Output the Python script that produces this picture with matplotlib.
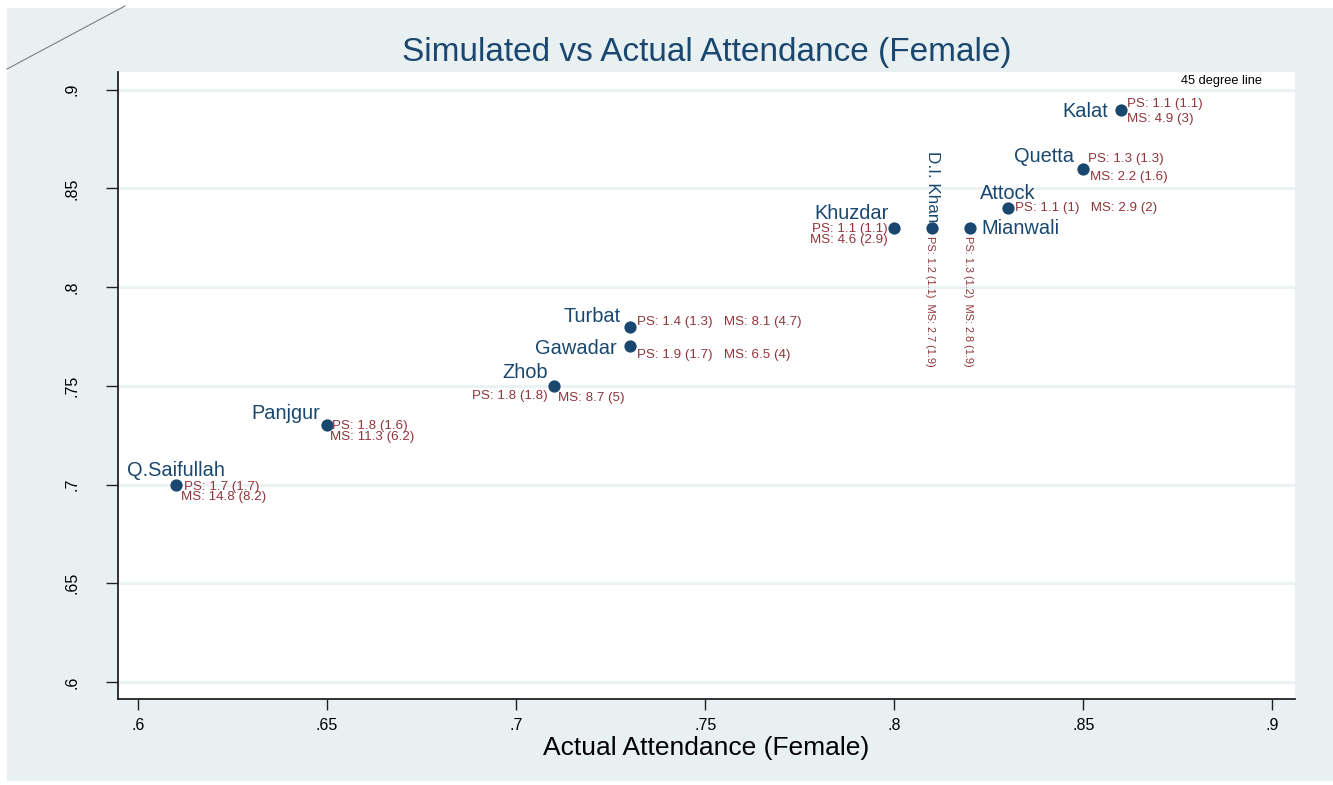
import matplotlib.pyplot as plt
from matplotlib.lines import Line2D
from matplotlib.patches import Rectangle
from matplotlib.ticker import FuncFormatter

plt.rcParams['font.family'] = ['Liberation Sans', 'DejaVu Sans']

# districts, actual vs simulated female attendance
districts = ['Q.Saifullah', 'Panjgur', 'Zhob', 'Gawadar', 'Turbat', 'Khuzdar',
             'D.I. Khan', 'Mianwali', 'Attock', 'Quetta', 'Kalat']
actual = [0.61, 0.65, 0.71, 0.73, 0.73, 0.80, 0.81, 0.82, 0.83, 0.85, 0.86]
simulated = [0.70, 0.73, 0.75, 0.77, 0.78, 0.83, 0.83, 0.83, 0.84, 0.86, 0.89]

# PS / MS figures shown beside each point: value (value in brackets)
ps_val = [1.7, 1.8, 1.8, 1.9, 1.4, 1.1, 1.2, 1.3, 1.1, 1.3, 1.1]
ps_par = [1.7, 1.6, 1.8, 1.7, 1.3, 1.1, 1.1, 1.2, 1, 1.3, 1.1]
ms_val = [14.8, 11.3, 8.7, 6.5, 8.1, 4.6, 2.7, 2.8, 2.9, 2.2, 4.9]
ms_par = [8.2, 6.2, 5, 4, 4.7, 2.9, 1.9, 1.9, 2, 1.6, 3]

navy = '#1a476f'
red = '#90353b'
bg = '#e8f0f2'

# where the district name sits (pixels from the marker): dx, dy, ha, va, rotation
name_pos = {
    'Q.Saifullah': (0, 14, 'center', 'center', 0),
    'Panjgur': (-7, 12, 'right', 'center', 0),
    'Zhob': (-6, 13, 'right', 'center', 0),
    'Gawadar': (-13, -2, 'right', 'center', 0),
    'Turbat': (-9, 10, 'right', 'center', 0),
    'Khuzdar': (-5, 14, 'right', 'center', 0),
    'D.I. Khan': (0, 6, 'center', 'bottom', -90),
    'Mianwali': (12, -1, 'left', 'center', 0),
    'Attock': (0, 15, 'center', 'center', 0),
    'Quetta': (-9, 12, 'right', 'center', 0),
    'Kalat': (-13, -2, 'right', 'center', 0),
}

# PS/MS text placement: (which, dx, dy, ha, va, rotation)
info_pos = {
    'Q.Saifullah': [('ps', 8, -2, 'left', 'center', 0), ('ms', 5, -12, 'left', 'center', 0)],
    'Panjgur': [('ps', 5, -1, 'left', 'center', 0), ('ms', 3, -12, 'left', 'center', 0)],
    'Zhob': [('ps', -6, -10, 'right', 'center', 0), ('ms', 4, -12, 'left', 'center', 0)],
    'Gawadar': [('row', 7, -9, 'left', 'center', 0)],
    'Turbat': [('row', 7, 5, 'left', 'center', 0)],
    'Khuzdar': [('ps', -6, -1, 'right', 'center', 0), ('ms', -6, -12, 'right', 'center', 0)],
    'D.I. Khan': [('col', -2, -8, 'center', 'top', -90)],
    'Mianwali': [('col', -2, -8, 'center', 'top', -90)],
    'Attock': [('row', 7, 0, 'left', 'center', 0)],
    'Quetta': [('ps', 5, 10, 'left', 'center', 0), ('ms', 7, -8, 'left', 'center', 0)],
    'Kalat': [('ps', 6, 6, 'left', 'center', 0), ('ms', 6, -9, 'left', 'center', 0)],
}

W, H = 1333, 785
fig = plt.figure(figsize=(W / 100, H / 100), dpi=100, facecolor='white')
fig.patches.append(Rectangle((7 / W, 4 / H), 1 - 7 / W, 1 - 12 / H, transform=fig.transFigure,
                             facecolor=bg, edgecolor='none', zorder=0))
# stray 45 degree line in the top-left corner
fig.lines.append(Line2D([7 / W, 125 / W], [1 - 69 / H, 1 - 6 / H], transform=fig.transFigure,
                        color='#7f7f7f', lw=0.8))

ax = fig.add_axes([118 / W, 1 - 699 / H, (1295 - 118) / W, (699 - 72) / H], zorder=2)
ax.set_facecolor('white')
ax.set_xlim(0.5947, 0.906)
ax.set_ylim(0.5914, 0.909)

ticks = [0.6, 0.65, 0.7, 0.75, 0.8, 0.85, 0.9]
fmt = FuncFormatter(lambda v, p: ('%g' % v).lstrip('0'))
ax.set_xticks(ticks)
ax.set_yticks(ticks)
ax.xaxis.set_major_formatter(fmt)
ax.yaxis.set_major_formatter(fmt)
ax.tick_params(axis='x', length=8, width=1, pad=6, labelsize=11.5, color='#222222')
ax.tick_params(axis='y', length=9, width=1, pad=19, labelsize=11.5, color='#222222')
for lab in ax.get_yticklabels():
    lab.set_rotation(90)
    lab.set_va('center')

for s in ['top', 'right']:
    ax.spines[s].set_visible(False)
for s in ['left', 'bottom']:
    ax.spines[s].set_linewidth(1.3)
    ax.spines[s].set_color('#222222')

ax.grid(axis='y', color='#eaf2f3', lw=2)
ax.set_axisbelow(True)

ax.scatter(actual, simulated, s=78, color=navy, zorder=3, linewidths=0)

for i, d in enumerate(districts):
    x, y = actual[i], simulated[i]
    dx, dy, ha, va, rot = name_pos[d]
    # vertical labels come out a little smaller
    ax.annotate(d, (x, y), xytext=(dx, dy), textcoords='offset pixels',
                ha=ha, va=va, rotation=rot, fontsize=12.3 if rot else 14.4, color=navy)
    ps = 'PS: %g (%g)' % (ps_val[i], ps_par[i])
    ms = 'MS: %g (%g)' % (ms_val[i], ms_par[i])
    for kind, dx, dy, ha, va, rot in info_pos[d]:
        txt = {'ps': ps, 'ms': ms, 'row': ps + '   ' + ms, 'col': ps + '  ' + ms}[kind]
        ax.annotate(txt, (x, y), xytext=(dx, dy), textcoords='offset pixels',
                    ha=ha, va=va, rotation=rot, fontsize=7.9 if rot else 9.6, color=red)

ax.text(0.972, 0.9856, '45 degree line', transform=ax.transAxes, ha='right', va='center',
        fontsize=9.2, color='black')

ax.set_title('Simulated vs Actual Attendance (Female)', fontsize=24, color=navy, pad=8)
ax.set_xlabel('Actual Attendance (Female)', fontsize=19, labelpad=2)

fig.savefig('out.png', dpi=100, facecolor='white')
